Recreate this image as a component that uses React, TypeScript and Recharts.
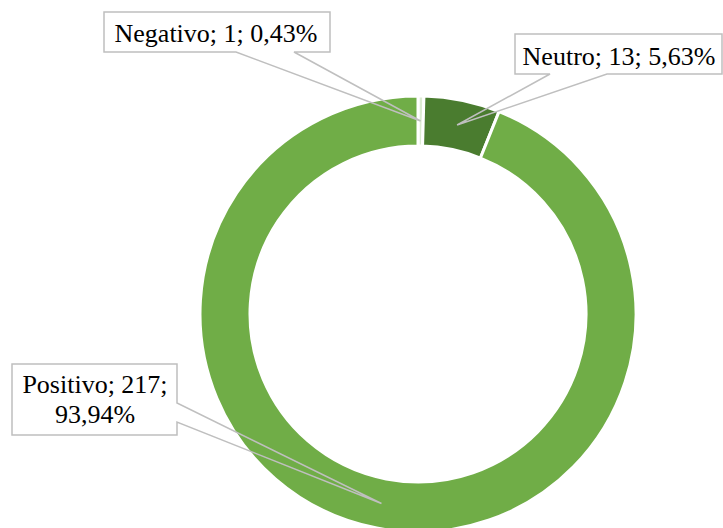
import React from "react";
import { PieChart, Pie, Cell } from "recharts";

const categories = ["Negativo", "Neutro", "Positivo"];
const values = [1, 13, 217];
const percentLabels = ["0,43%", "5,63%", "93,94%"];
const colors = ["#dcebd2", "#4a7c2f", "#70ad47"];

const data = categories.map((name, i) => ({ name, value: values[i], pct: percentLabels[i] }));

type Box = {
  x: number;
  y: number;
  w: number;
  h: number;
  tailSide: "bottom" | "right";
  t1: number;
  t2: number;
  lines: string[];
  tx: number;
  baselines: number[];
};

const boxes: Box[] = [
  { x: 104, y: 12, w: 226, h: 40, tailSide: "bottom", t1: 236, t2: 294, lines: ["Negativo; 1; 0,43%"], tx: 216, baselines: [42] },
  { x: 515, y: 34, w: 207, h: 40, tailSide: "bottom", t1: 550, t2: 607, lines: ["Neutro; 13; 5,63%"], tx: 619, baselines: [65] },
  { x: 12, y: 364, w: 165, h: 71, tailSide: "right", t1: 403, t2: 422, lines: ["Positivo; 217;", "93,94%"], tx: 95, baselines: [393, 423] },
];

const RAD = Math.PI / 180;

const renderLabel = (props: any) => {
  const { cx, cy, midAngle, innerRadius, outerRadius, index } = props;
  const r = (innerRadius + outerRadius) / 2;
  const px = cx + r * Math.cos(-midAngle * RAD);
  const py = cy + r * Math.sin(-midAngle * RAD);
  const b = boxes[index];
  const x1 = b.x + b.w;
  const y1 = b.y + b.h;
  let d: string;
  if (b.tailSide === "bottom") {
    d = `M${b.x},${b.y} H${x1} V${y1} H${b.t2} L${px},${py} L${b.t1},${y1} H${b.x} Z`;
  } else {
    d = `M${b.x},${b.y} H${x1} V${b.t1} L${px},${py} L${x1},${b.t2} V${y1} H${b.x} Z`;
  }
  return (
    <g key={`lbl-${index}`}>
      <path d={d} fill="none" stroke="#bfbfbf" strokeWidth={1.5} strokeLinejoin="miter" />
      {b.lines.map((ln, i) => (
        <text
          key={i}
          x={b.tx}
          y={b.baselines[i]}
          textAnchor="middle"
          fontFamily="'Liberation Serif', 'Times New Roman', serif"
          fontSize={26}
          fill="#000000"
        >
          {ln}
        </text>
      ))}
    </g>
  );
};

export default function App() {
  return (
    <div style={{ width: 723, height: 528, background: "#ffffff" }}>
      <style>{`body{margin:0;}`}</style>
      <PieChart width={723} height={528} margin={{ top: 0, right: 0, bottom: 0, left: 0 }}>
        <Pie
          data={data}
          dataKey="value"
          nameKey="name"
          cx={418}
          cy={314}
          innerRadius={168}
          outerRadius={218}
          startAngle={90}
          endAngle={-270}
          stroke="#ffffff"
          strokeWidth={3}
          label={renderLabel}
          labelLine={false}
          isAnimationActive={false}
        >
          {data.map((d, i) => (
            <Cell key={d.name} fill={colors[i]} />
          ))}
        </Pie>
      </PieChart>
    </div>
  );
}
